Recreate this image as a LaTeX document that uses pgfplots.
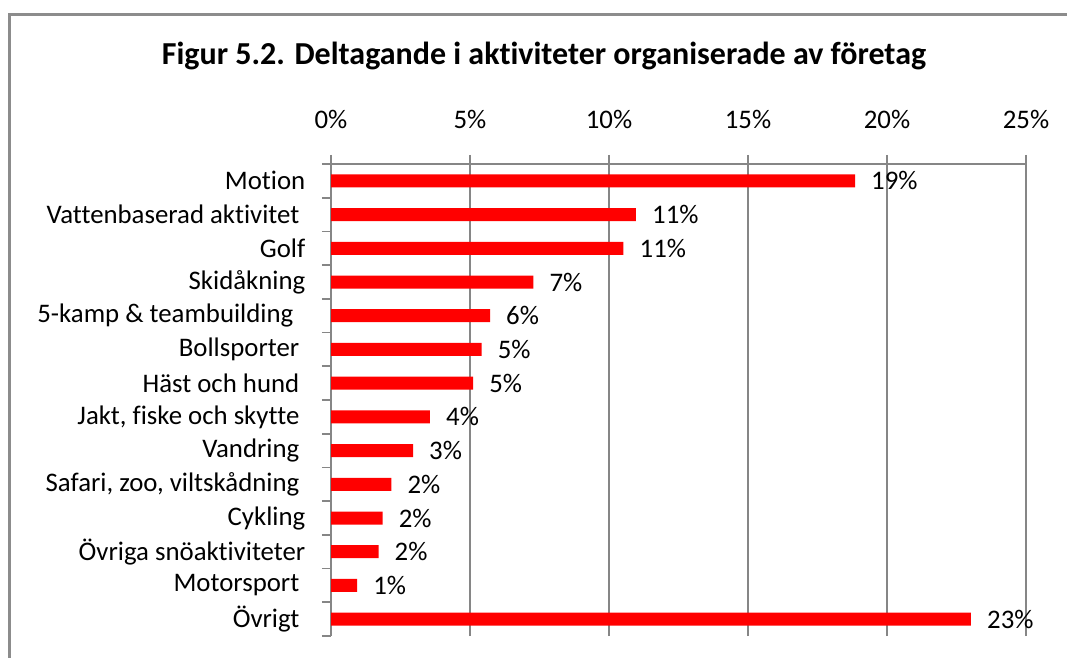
\documentclass[border=0pt]{standalone}
\usepackage{pgfplots}
\pgfplotsset{compat=1.18}
\usepackage{fontspec}
\setmainfont[Ligatures=NoCommon]{Carlito}
\definecolor{gridgray}{HTML}{868686}
\definecolor{framegray}{HTML}{8C8C8C}
\newcommand{\lblfont}{\fontsize{26.8}{32}\selectfont}
\begin{document}
\begin{tikzpicture}
\useasboundingbox (0pt,0pt) rectangle (1067pt,657pt);
\draw[framegray, line width=3pt] (9pt,-2pt) -- (9pt,642pt) -- (1070pt,642pt);
\node[anchor=base, font=\fontsize{32}{38}\selectfont\bfseries] at (544pt,592pt)
  {Figur 5.2. Deltagande i aktiviteter organiserade av företag};
\begin{axis}[
  at={(331pt,21pt)}, anchor=south west,
  scale only axis, width=695pt, height=472pt,
  xbar, bar shift=0pt, bar width=13pt,
  xmin=0, xmax=25, ymin=-0.5, ymax=13.5,
  axis x line*=top, axis y line*=left,
  axis line style={gridgray, line width=1.8pt},
  tick style={gridgray, line width=1.8pt},
  tick align=outside, major tick length=9pt,
  xmajorgrids, grid style={gridgray, line width=1.8pt},
  xtick={0,5,...,25},
  xticklabel={\pgfmathprintnumber{\tick}\%},
  /pgf/number format/assume math mode=true,
  xticklabel style={anchor=base, inner sep=0pt, yshift=26pt},
  ytick={-0.5,0.5,...,13.5}, yticklabels={},
  extra y ticks={0,1,...,13},
  extra y tick labels={Övrigt\kern6pt, Motorsport\kern6pt, Övriga snöaktiviteter,
    Cykling, {Safari, zoo, viltskådning\kern6pt}, Vandring\kern6pt,
    {Jakt, fiske och skytte\kern6pt}, Häst och hund\kern6pt, Bollsporter\kern6pt,
    5-kamp \& teambuilding\kern12pt, Skidåkning, Golf, Vattenbaserad aktivitet\kern6pt, Motion},
  extra y tick style={major tick length=0pt, tick style={draw=none},
    yticklabel style={anchor=east, inner sep=0pt, xshift=-25.5pt}},
  tick label style={font=\lblfont},
  point meta=x,
  nodes near coords={\pgfmathprintnumber[fixed,precision=0]{\pgfplotspointmeta}\%},
  nodes near coords style={anchor=west, inner sep=0pt, xshift=16pt, black,
    font=\lblfont},
]
\addplot[fill=red, draw=none] coordinates {
  (23.02,0) (0.94,1) (1.71,2) (1.86,3) (2.17,4) (2.95,5) (3.56,6)
  (5.11,7) (5.42,8) (5.72,9) (7.28,10) (10.52,11) (10.97,12) (18.85,13)
};
\end{axis}
\end{tikzpicture}
\end{document}
